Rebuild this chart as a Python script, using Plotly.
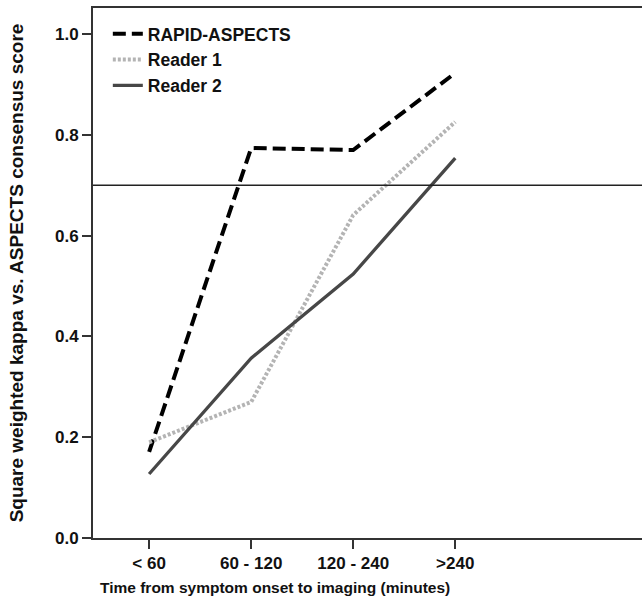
import plotly.graph_objects as go

categories = ["< 60", "60 - 120", "120 - 240", ">240"]
rapid_aspects = [0.171, 0.774, 0.770, 0.923]
reader_1 = [0.190, 0.270, 0.641, 0.826]
reader_2 = [0.127, 0.357, 0.524, 0.754]
threshold = 0.7

FONT = "Liberation Sans"

fig = go.Figure()
fig.add_trace(go.Scatter(x=categories, y=rapid_aspects, mode="lines", name="RAPID-ASPECTS",
                         line=dict(color="#000000", width=4, dash="13px,6px")))
fig.add_trace(go.Scatter(x=categories, y=reader_1, mode="lines", name="Reader 1",
                         line=dict(color="#b4b4b4", width=4, dash="3px,2px")))
fig.add_trace(go.Scatter(x=categories, y=reader_2, mode="lines", name="Reader 2",
                         line=dict(color="#474747", width=3.3)))

fig.add_hline(y=threshold, line=dict(color="#222222", width=1.5))

fig.add_annotation(text="Time from symptom onset to imaging (minutes)", xref="paper", yref="paper",
                   x=0.332, y=-0.074, xanchor="center", yanchor="top", showarrow=False,
                   font=dict(family=FONT, size=15.5, color="#111111", weight="bold"))

fig.update_layout(
    width=642, height=601,
    margin=dict(l=93, r=0, t=8, b=63),
    plot_bgcolor="white", paper_bgcolor="white",
    font=dict(family=FONT, color="#111111"),
    showlegend=True,
    legend=dict(x=0.027, y=0.985, xanchor="left", yanchor="top", bgcolor="rgba(0,0,0,0)",
                font=dict(family=FONT, size=17.5, color="#111111", weight="bold"),
                tracegroupgap=0, itemwidth=30),
    xaxis=dict(range=[-0.55, 4.83], showgrid=False, zeroline=False,
               showline=True, linecolor="#333333", linewidth=2, mirror=True,
               ticks="outside", ticklen=9, tickwidth=2, tickcolor="#333333",
               tickfont=dict(family=FONT, size=17, color="#111111", weight="bold")),
    yaxis=dict(range=[0, 1.052], showgrid=False, zeroline=False,
               showline=True, linecolor="#333333", linewidth=2,
               ticks="outside", ticklen=9, tickwidth=2, tickcolor="#333333",
               tickvals=[0, 0.2, 0.4, 0.6, 0.8, 1.0], tickformat=".1f",
               tickfont=dict(family=FONT, size=17, color="#111111", weight="bold"),
               title=dict(text="Square weighted kappa vs. ASPECTS consensus score", standoff=26,
                          font=dict(family=FONT, size=19, color="#111111", weight="bold"))),
)

fig.write_html("out.html", config={"displayModeBar": False},
               post_script="document.body.style.margin='0px';")
